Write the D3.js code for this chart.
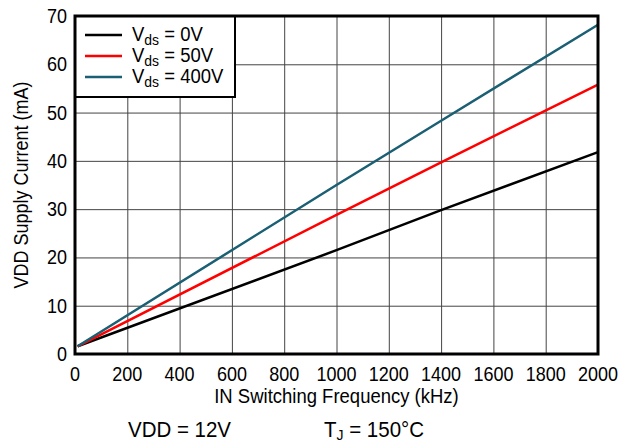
<!DOCTYPE html>
<html>
<head>
<meta charset="utf-8">
<script src="https://cdn.jsdelivr.net/npm/d3@7"></script>
<style>
  body { margin: 0; background: #fff; }
  text { font-family: "Liberation Sans", Arial, sans-serif; fill: #000; }
</style>
</head>
<body>
<script>
// values
var freq = [10, 1000, 1400, 2000];
var vds0 = [1.6, 21.5, 29.8, 41.8];
var vds50 = [1.6, 28.8, 39.7, 55.8];
var vds400 = [1.6, 35.0, 48.3, 68.2];
var xTicks = [0, 200, 400, 600, 800, 1000, 1200, 1400, 1600, 1800, 2000];
var yTicks = [0, 10, 20, 30, 40, 50, 60, 70];
var seriesNames = ["0V", "50V", "400V"];
var seriesColors = ["#000000", "#ff0000", "#1a5f73"];

var width = 631, height = 444,
    plotLeft = 75, plotRight = 598, plotTop = 16, plotBottom = 354,
    stretch = 1.1; // source text is a bit taller than it is wide

var svg = d3.select("body").append("svg")
    .attr("width", width)
    .attr("height", height);

var x = d3.scaleLinear().domain([0, 2000]).range([plotLeft, plotRight]);
var y = d3.scaleLinear().domain([0, 70]).range([plotBottom, plotTop]);

function addText(parent, tx, ty, size, anchor, rot) {
    return parent.append("text")
        .attr("transform", "translate(" + tx + "," + ty + ")" + (rot ? " rotate(" + rot + ")" : "") + " scale(1," + stretch + ")")
        .attr("text-anchor", anchor || "start")
        .style("font-size", size + "px");
}

// grid
svg.append("g")
    .attr("transform", "translate(0," + plotBottom + ")")
    .call(d3.axisBottom(x).tickValues(xTicks).tickSize(-(plotBottom - plotTop)).tickFormat(""))
    .call(function (g) {
        g.select(".domain").remove();
        g.selectAll("line").attr("stroke", "#444").attr("stroke-width", 1);
    });
svg.append("g")
    .attr("transform", "translate(" + plotLeft + ",0)")
    .call(d3.axisLeft(y).tickValues(yTicks).tickSize(-(plotRight - plotLeft)).tickFormat(""))
    .call(function (g) {
        g.select(".domain").remove();
        g.selectAll("line").attr("stroke", "#444").attr("stroke-width", 1);
    });

// tick labels
var xLab = svg.append("g");
xTicks.forEach(function (d) {
    addText(xLab, x(d), 381, 18, "middle").text(d);
});
var yLab = svg.append("g");
yTicks.forEach(function (d) {
    addText(yLab, 67, y(d) + 7, 18, "end").text(d);
});

// lines
var line = d3.line()
    .x(function (d) { return x(d[0]); })
    .y(function (d) { return y(d[1]); });

[vds0, vds50, vds400].forEach(function (vals, i) {
    svg.append("path")
        .attr("d", line(d3.zip(freq, vals)))
        .attr("fill", "none")
        .attr("stroke", seriesColors[i])
        .attr("stroke-width", 2.5);
});

// legend
var legend = svg.append("g");
legend.append("rect")
    .attr("x", plotLeft).attr("y", plotTop)
    .attr("width", 160).attr("height", 81)
    .attr("fill", "#fff").attr("stroke", "#000").attr("stroke-width", 2);

seriesNames.forEach(function (name, i) {
    var ly = 35 + i * 21;
    legend.append("line")
        .attr("x1", 85).attr("x2", 122)
        .attr("y1", ly).attr("y2", ly)
        .attr("stroke", seriesColors[i])
        .attr("stroke-width", 2.5);
    var t = addText(legend, 132, ly + 6, 18.5);
    t.append("tspan").text("V");
    t.append("tspan").attr("dy", 4).style("font-size", "14px").text("ds");
    t.append("tspan").attr("dy", -4).text(" = " + name);
});

// frame
svg.append("rect")
    .attr("x", plotLeft).attr("y", plotTop)
    .attr("width", plotRight - plotLeft).attr("height", plotBottom - plotTop)
    .attr("fill", "none").attr("stroke", "#000").attr("stroke-width", 3);

// axis titles
addText(svg, (plotLeft + plotRight) / 2, 403, 18.5, "middle")
    .text("IN Switching Frequency (kHz)");

addText(svg, 28, (plotTop + plotBottom) / 2, 18, "middle", -90)
    .text("VDD Supply Current (mA)");

// conditions
addText(svg, 128, 437, 20.5)
    .text("VDD = 12V");

var tj = addText(svg, 324, 437, 20.5);
tj.append("tspan").text("T");
tj.append("tspan").attr("dy", 3).style("font-size", "14px").text("J");
tj.append("tspan").attr("dy", -3).text(" = 150°C");
</script>
</body>
</html>
